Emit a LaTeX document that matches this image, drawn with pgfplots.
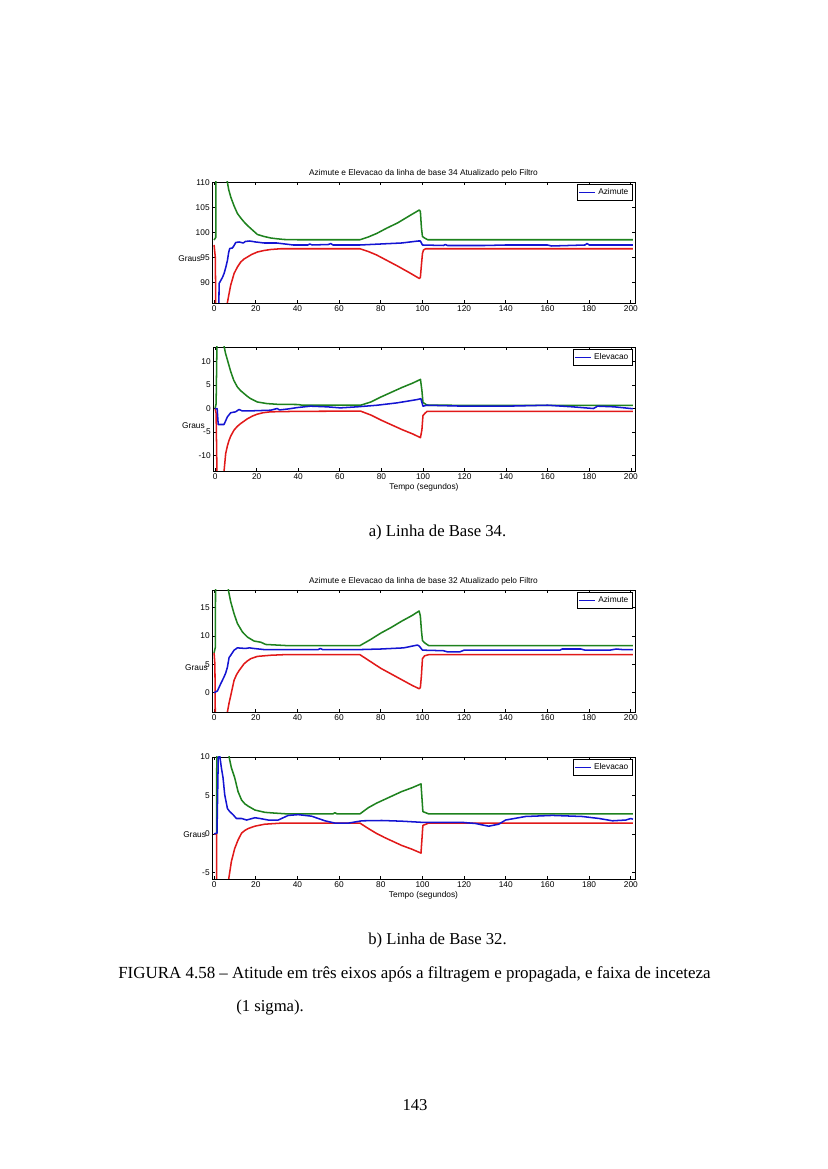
\documentclass[border=0pt]{standalone}
\usepackage{fontspec}
\setmainfont{Liberation Serif}
\newfontfamily\plotfont{Liberation Sans}
\usepackage{pgfplots}
\pgfplotsset{compat=1.18}
\definecolor{mgreen}{RGB}{30,130,30}
\definecolor{mred}{RGB}{225,25,25}
\definecolor{mblue}{RGB}{20,20,210}
\newcommand{\pf}{\plotfont\fontsize{6}{7}\selectfont}
\pgfplotsset{
  mat/.style={
    scale only axis, width=304.56pt,
    xmin=-1, xmax=202, xtick={0,20,...,200},
    tick align=inside, xtick pos=both, ytick pos=both,
    xticklabel pos=lower, yticklabel pos=left,
    major tick length=2.4pt,
    tick style={black, line width=0.5pt},
    axis line style={line width=0.6pt},
    every tick label/.append style={font=\pf, inner sep=1.5pt},
    /pgf/number format/assume math mode=true,
    title style={font=\pf, anchor=base, at={(axis description cs:0.5,1)}, yshift=-1pt},
    ylabel style={rotate=-90, anchor=west, font=\pf, inner sep=0pt},
    xlabel style={font=\pf, anchor=base, at={(axis description cs:0.5,0)}, yshift=-13.5pt},
    legend style={at={(axis description cs:0.995,0.985)}, anchor=north east, font=\pf,
      draw=black, line width=0.5pt, inner sep=1pt, row sep=-1pt},
    legend cell align=left,
    legend image code/.code={\draw[draw=mblue, line width=1.1pt] (0pt,0pt) -- (11pt,0pt);},
    every axis plot/.append style={line width=1.1pt, line join=round},
    clip=true,
  }
}
\begin{document}
\begin{tikzpicture}[x=0.72pt, y=0.72pt]
\path[use as bounding box] (0,0) rectangle (828,1169);
\coordinate (P1) at (212,987);
\coordinate (P2) at (213,822);
\coordinate (P3) at (212,579);
\coordinate (P4) at (212,412);

% ---------- Plot 1 ----------
\begin{axis}[mat, at={(P1)}, anchor=north west, height=87.12pt,
  ymin=85.9, ymax=110.1, ytick={90,95,100,105,110},
  title={Azimute e Elevacao da linha de base 34 Atualizado pelo Filtro},
  ylabel={Graus}, ylabel style={at={(axis description cs:-0.0804,0.364)}}]
\addplot[mgreen, forget plot] coordinates {(0,98.5) (0.8,99) (1.0,125) (5.8,125) (6.2,110.5) (7,108.6) (8,107.1) (9.6,105.3) (11.2,103.8) (12.8,102.9) (14.4,102.1) (16,101.4) (17.6,100.8) (19.2,100.2) (20.8,99.6) (24,99.2) (27.2,98.9) (30,98.75) (33.6,98.6) (40,98.55) (70,98.55) (74,99.1) (78,99.8) (83,100.9) (88,101.9) (94,103.4) (98.5,104.5) (99,104.2) (99.5,101) (100,99.2) (101,98.9) (102.5,98.55) (201,98.55)};
\addplot[mred, forget plot] coordinates {(0,97.5) (0.6,95) (1,75) (6,75) (6.4,86) (7.2,87.8) (8,89.5) (9.6,91.8) (11.2,93.1) (12.8,94.1) (14.4,94.7) (16,95.1) (18,95.6) (20.8,96.1) (24,96.4) (27.2,96.6) (32,96.75) (70,96.75) (74,96.2) (78,95.5) (83,94.4) (88,93.3) (94,91.9) (98.5,90.8) (99,91.0) (99.5,93.5) (100,95.8) (100.5,96.5) (101.5,96.75) (201,96.75)};
\addplot[mblue] coordinates {(0,80) (2.2,80) (2.4,89.8) (3.2,90.4) (4,91) (4.8,91.8) (5.6,93) (6.4,94.4) (7,96) (7.5,96.8) (8.8,96.9) (9.6,97.4) (10.4,98.0) (12,98.1) (14,97.9) (15,98.2) (17,98.3) (20,98.1) (24,97.9) (30,97.9) (34,97.7) (38,97.5) (45,97.5) (46,97.7) (47,97.5) (55,97.6) (56,97.8) (57,97.5) (70,97.5) (80,97.7) (90,97.9) (98,98.3) (99,98.3) (100,97.5) (110,97.4) (111,97.6) (112,97.4) (130,97.4) (140,97.5) (160,97.5) (162,97.3) (178,97.5) (179,97.8) (180,97.5) (201,97.5)};
\addlegendentry{Azimute}
\end{axis}

% ---------- Plot 2 ----------
\begin{axis}[mat, at={(P2)}, anchor=north west, width=303.84pt, height=89.28pt,
  ymin=-13.3, ymax=13.1, ytick={-10,-5,0,5,10},
  xlabel={Tempo (segundos)},
  ylabel={Graus}, ylabel style={at={(axis description cs:-0.074,0.365)}}]
\addplot[mgreen, forget plot] coordinates {(0,0) (0.5,1) (1.1,20) (4,20) (4.3,13.3) (5,11.8) (5.9,10.4) (7.5,7.9) (9,6.0) (10.7,4.6) (12.3,3.8) (13.9,3.2) (15.5,2.6) (17.1,2.1) (20.3,1.4) (25,1.05) (30,0.9) (40,0.85) (42,0.7) (70,0.7) (75,1.4) (80,2.5) (85,3.5) (90,4.5) (95,5.4) (98.8,6.2) (99.5,3.8) (100,1.3) (101,1.0) (102,0.7) (201,0.65)};
\addplot[mred, forget plot] coordinates {(0,0) (0.5,-1) (1.1,-20) (4,-20) (4.3,-13.4) (5.1,-9.6) (5.9,-8.0) (6.7,-6.8) (7.5,-5.9) (9.1,-4.6) (10.7,-3.8) (12.3,-3.2) (15.5,-2.2) (18,-1.6) (20.3,-1.2) (23,-0.9) (26.7,-0.7) (40,-0.6) (70,-0.55) (75,-1.4) (80,-2.5) (85,-3.5) (90,-4.5) (95,-5.4) (98.8,-6.2) (99.5,-4.5) (100,-1.5) (101,-1.0) (102,-0.6) (201,-0.6)};
\addplot[mblue] coordinates {(0,0) (1,0) (1.5,-3.4) (4.3,-3.4) (5.1,-2.6) (5.9,-1.8) (7.5,-0.9) (9.9,-0.7) (11.5,-0.2) (13,-0.5) (17.1,-0.5) (26.7,-0.36) (29.9,0) (31,-0.3) (35,-0.1) (39.5,0.2) (45.9,0.5) (53.9,0.36) (60.3,0.14) (68.3,0.36) (77.9,0.7) (87.5,1.2) (97.1,1.9) (99,2.1) (100,0.5) (102,0.7) (120,0.5) (140,0.5) (160,0.7) (172,0.36) (182,0) (184,0.5) (192,0.36) (200,0) (201,0)};
\addlegendentry{Elevacao}
\end{axis}

% ---------- Plot 3 ----------
\begin{axis}[mat, at={(P3)}, anchor=north west, height=87.84pt,
  ymin=-3.4, ymax=18.1, ytick={0,5,10,15},
  title={Azimute e Elevacao da linha de base 32 Atualizado pelo Filtro},
  ylabel={Graus}, ylabel style={at={(axis description cs:-0.064,0.36)}}]
\addplot[mgreen, forget plot] coordinates {(0,7) (0.6,8) (0.8,30) (6.5,30) (6.9,18) (8,16) (9.6,13.9) (11.2,12.2) (13.6,10.7) (16,9.8) (19.2,9.1) (22.4,8.9) (24.8,8.5) (30,8.4) (35,8.3) (70,8.3) (75,9.35) (80,10.5) (85,11.5) (90,12.6) (95,13.6) (98.4,14.4) (99,13.5) (99.5,11) (100,9.2) (101,8.8) (103,8.3) (201,8.3)};
\addplot[mred, forget plot] coordinates {(0,7) (0.4,5) (0.7,-10) (6,-10) (6.4,-3.4) (7.2,-1.8) (8,-0.5) (9.6,2.2) (10.8,3.2) (12,3.9) (14.4,5.1) (16,5.6) (17.6,6.0) (20.8,6.4) (27.2,6.6) (33.6,6.7) (70,6.7) (75,5.5) (80,4.3) (85,3.3) (90,2.3) (95,1.3) (98.4,0.7) (99,0.9) (99.5,3) (100,6.0) (101,6.5) (103,6.7) (201,6.7)};
\addplot[mblue] coordinates {(0,0) (1.6,0.3) (3.2,1.6) (4.8,2.8) (5.6,3.5) (6.4,4.5) (7.2,6.2) (8,6.6) (9.6,7.5) (11.2,7.9) (15,7.8) (17,7.9) (19,7.8) (24,7.6) (50,7.6) (51,7.8) (52,7.6) (70,7.6) (80,7.7) (91,7.9) (97.6,8.4) (98.5,8.2) (100,7.5) (110,7.4) (112,7.2) (118,7.2) (120,7.5) (166,7.5) (167,7.7) (176,7.7) (178,7.5) (190,7.5) (193,7.7) (196,7.6) (201,7.6)};
\addlegendentry{Azimute}
\end{axis}

% ---------- Plot 4 ----------
\begin{axis}[mat, at={(P4)}, anchor=north west, height=87.84pt,
  ymin=-5.87, ymax=10, ytick={-5,0,5,10},
  xlabel={Tempo (segundos)},
  ylabel={Graus}, ylabel style={at={(axis description cs:-0.0686,0.36)}}]
\addplot[mgreen, forget plot] coordinates {(0,0) (1.2,0) (1.4,20) (6.9,20) (7.2,10) (8.3,8.6) (9.9,7.3) (11.5,5.5) (13.2,4.4) (14.8,3.9) (16.4,3.6) (19.6,3.1) (24.4,2.8) (29.2,2.7) (35,2.6) (57,2.6) (58,2.75) (59,2.6) (70,2.6) (74,3.4) (78,4.0) (82,4.5) (86,5.0) (90,5.5) (95,6.0) (99.3,6.5) (99.8,4.5) (100.2,2.9) (102,2.7) (103,2.6) (201,2.6)};
\addplot[mred, forget plot] coordinates {(0,0) (1.2,0) (1.4,-20) (6.7,-20) (7,-5.9) (8.3,-3.6) (9.9,-1.9) (11.5,-0.8) (13.2,0.1) (14.8,0.45) (16.4,0.7) (19.6,1.0) (24.4,1.26) (32.4,1.4) (70,1.4) (74,0.7) (78,0.05) (82,-0.5) (86,-1.0) (90,-1.5) (95,-2.0) (99.3,-2.5) (99.8,-0.5) (100.2,1.1) (102,1.3) (103,1.4) (201,1.4)};
\addplot[mblue] coordinates {(0,0) (1.4,0.1) (2,9.9) (2.7,10.2) (3.5,8.6) (4.3,7.3) (5.1,5.1) (6.4,3.3) (7.5,2.9) (9.1,2.5) (10.7,2.0) (13.2,2.0) (15.6,1.8) (19.6,2.1) (22,2.0) (26,1.8) (30.8,1.8) (35.6,2.4) (40.4,2.5) (46.8,2.3) (53.2,1.7) (58,1.4) (64.5,1.4) (70.9,1.7) (80.5,1.74) (90.1,1.65) (99.8,1.5) (109.4,1.5) (119,1.5) (125.4,1.35) (131.8,1.0) (136.6,1.26) (139.9,1.8) (149.5,2.26) (162.3,2.4) (176.7,2.26) (184.8,2.0) (191.2,1.7) (197.6,1.8) (200,2.0) (201,1.9)};
\addlegendentry{Elevacao}
\end{axis}

% ---------- Captions ----------
\node[anchor=base, font=\fontsize{12}{14}\selectfont, inner sep=0pt] at (437.5,632) {a) Linha de Base 34.};
\node[anchor=base, font=\fontsize{12}{14}\selectfont, inner sep=0pt] at (437.5,224) {b) Linha de Base 32.};
\node[anchor=base west, font=\fontsize{12.2}{14}\selectfont, inner sep=0pt] at (118,190) {FIGURA 4.58 -- Atitude em três eixos após a filtragem e propagada, e faixa de inceteza};
\node[anchor=base west, font=\fontsize{12}{14}\selectfont, inner sep=0pt] at (236,157) {(1 sigma).};
\node[anchor=base, font=\fontsize{12}{14}\selectfont, inner sep=0pt] at (415,58) {143};
\end{tikzpicture}
\end{document}
